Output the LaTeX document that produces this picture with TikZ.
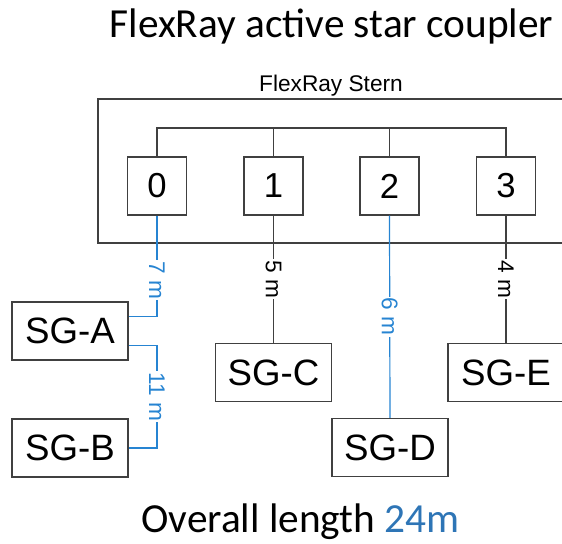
\documentclass[tikz,border=0pt]{standalone}
\usepackage{fontspec}
\setmainfont{Carlito}
\newfontfamily\arialfont{Liberation Sans}
\definecolor{linkblue}{RGB}{38,132,210}
\definecolor{textblue}{RGB}{46,117,182}
\definecolor{boxgray}{RGB}{64,64,64}
\tikzset{every picture/.style={line width=0.9pt}}
\tikzset{
  port/.style={draw=boxgray,fill=white,minimum width=44.25pt,minimum height=43.5pt,inner sep=0pt,font=\arialfont\fontsize{26}{26}\selectfont},
  sgbox/.style={draw=boxgray,fill=white,minimum width=87pt,minimum height=43.5pt,inner sep=0pt,font=\arialfont\fontsize{27.5}{27.5}\selectfont},
  lenlabel/.style={rotate=-90,fill=white,inner sep=1pt,font=\arialfont\fontsize{17}{17}\selectfont},
}

\begin{document}
\begin{tikzpicture}[x=0.75pt,y=0.75pt,yscale=-1,xscale=1]
\useasboundingbox (0,0) rectangle (562,544);
\clip (0,0) rectangle (562,544);

% Title
\node (title) [anchor=base,inner sep=0pt,font=\fontsize{31}{31}\selectfont] at (331.5,37) {FlexRay active star coupler};

% Stern box
\draw [boxgray] (98,99) rectangle (580,243);
\node (stern) [anchor=base,inner sep=0pt,font=\arialfont\fontsize{17}{17}\selectfont] at (331,91.5) {FlexRay Stern};

% Ports
\node (p0) [port] at (157,186) {0};
\node (p1) [port] at (273.5,186) {1};
\node (p2) [port] at (389.5,186) {2};
\node (p3) [port] at (506,186) {3};

% Internal bus
\draw [boxgray] (p0.north) -- (p0.north |- 0,128) -- (p3.north |- 0,128) -- (p3.north);
\draw [boxgray] (p1.north) -- (p1.north |- 0,128);
\draw [boxgray] (p2.north) -- (p2.north |- 0,128);

% Control units
\node (sga) [sgbox] at (70,331) {SG-A};
\node (sgb) [sgbox] at (70,448) {SG-B};
\node (sgc) [sgbox] at (273.5,372.5) {SG-C};
\node (sgd) [sgbox] at (390,447.5) {SG-D};
\node (sge) [sgbox] at (506,372.5) {SG-E};

% Branches
\draw [linkblue] (p0.south) |- node [lenlabel,text=linkblue,pos=0.32] {7 m} (sga.14);
\draw [linkblue] (sga.-14) -| node [lenlabel,text=linkblue,pos=0.75] {11 m} (p0.south |- sgb.east) -- (sgb.east);
\draw [boxgray] (p1.south) -- node [lenlabel,text=black] {5 m} (sgc.north);
\draw [linkblue] (p2.south) -- node [lenlabel,text=linkblue] {6 m} (sgd.north);
\draw [boxgray] (p3.south) -- node [lenlabel,text=black] {4 m} (sge.north);

% Footer
\node (total) [anchor=base,inner sep=0pt,font=\fontsize{31}{31}\selectfont] at (300.5,532) {Overall length \textcolor{textblue}{24m}};
\end{tikzpicture}
\end{document}
